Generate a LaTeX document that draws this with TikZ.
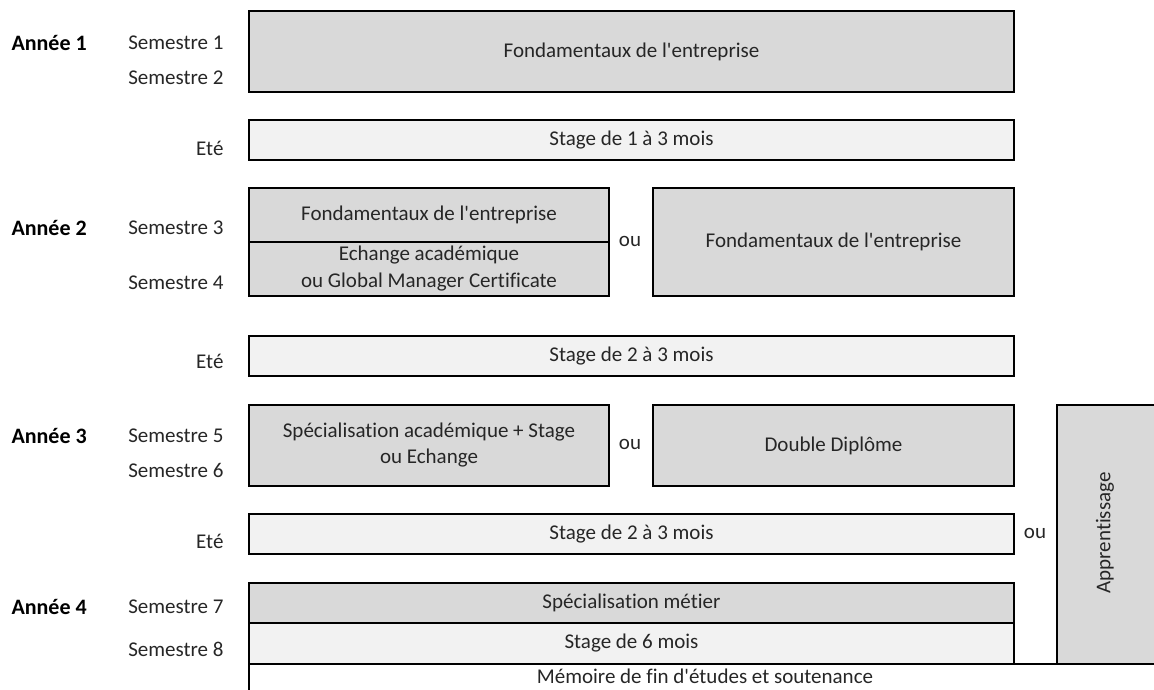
\documentclass[tikz,border=0pt]{standalone}
\usepackage{fontspec}
\setmainfont{Carlito}[Ligatures={TeXOff,NoCommon}]
\definecolor{darkfill}{HTML}{D9D9D9}
\definecolor{lightfill}{HTML}{F2F2F2}
\definecolor{txt}{HTML}{262626}
\begin{document}
\begin{tikzpicture}[x=1pt,y=-1pt,
  every node/.style={font=\fontsize{21}{26}\selectfont, text=txt},
  box/.style={draw=black, line width=2pt, anchor=north west, inner sep=0pt, align=center},
  dark/.style={box, fill=darkfill},
  light/.style={box, fill=lightfill},
  yearlab/.style={anchor=west, font=\fontsize{22}{26}\selectfont\bfseries, text=black},
  semlab/.style={anchor=east},
  orlab/.style={}
]
\useasboundingbox (0,0) rectangle (1154,689);
\clip (0,0) rectangle (1154,689);
% boxes
\node[dark, minimum width=765pt, minimum height=81pt] (a1) at (248,10) {};
\node at (a1.center) {Fondamentaux de l'entreprise};
\node[light, minimum width=765pt, minimum height=40pt] (e1) at (248,119) {};
\node at (e1.center) {Stage de 1 à 3 mois};

\node[dark, minimum width=360pt, minimum height=54pt] (a2t) at (248,187) {};
\node at (a2t.center) {Fondamentaux de l'entreprise};
\node[dark, minimum width=360pt, minimum height=54pt] (a2b) at (248,241) {};
\node[align=center, font=\fontsize{21}{27}\selectfont] at (a2b.center) {Echange académique\\ou Global Manager Certificate};
\node[dark, minimum width=361pt, minimum height=108pt] (a2r) at (652,187) {};
\node at (a2r.center) {Fondamentaux de l'entreprise};
\node[orlab] (ou1) at (630,241) {ou};

\node[light, minimum width=765pt, minimum height=40pt] (e2) at (248,335) {};
\node at (e2.center) {Stage de 2 à 3 mois};

\node[dark, minimum width=360pt, minimum height=81pt] (a3l) at (248,404) {};
\node[align=center, font=\fontsize{21}{26}\selectfont] at (a3l.center) {Spécialisation académique + Stage\\ou Echange};
\node[dark, minimum width=361pt, minimum height=81pt] (a3r) at (652,404) {};
\node at (a3r.center) {Double Diplôme};
\node[orlab] (ou2) at (630,444) {ou};

\node[light, minimum width=765pt, minimum height=40pt] (e3) at (248,513) {};
\node at (e3.center) {Stage de 2 à 3 mois};
\node[orlab] (ou3) at (1035,533) {ou};

\node[dark, minimum width=765pt, minimum height=40pt] (s7) at (248,582) {};
\node at (s7.center) {Spécialisation métier};
\node[light, minimum width=765pt, minimum height=41pt] (s8) at (248,622) {};
\node at (s8.center) {Stage de 6 mois};

\node[box, minimum width=912pt, minimum height=32pt] (mem) at (248,663) {};
\node at (705,676) {Mémoire de fin d'études et soutenance};

\node[dark, minimum width=104pt, minimum height=259pt] (app) at (1056,404) {};
\node[rotate=90] at (1105,533) {Apprentissage};

% left labels
\node[yearlab] (y1) at (8,43) {Année 1};
\node[yearlab] (y2) at (8,228) {Année 2};
\node[yearlab] (y3) at (8,436) {Année 3};
\node[yearlab] (y4) at (8,607) {Année 4};

\node[semlab] (t1) at (227,43) {Semestre 1};
\node[semlab] (t2) at (227,78) {Semestre 2};
\node[semlab] (t3) at (227,148) {Eté};
\node[semlab] (t4) at (227,228) {Semestre 3};
\node[semlab] (t5) at (227,283) {Semestre 4};
\node[semlab] (t6) at (227,361) {Eté};
\node[semlab] (t7) at (227,436) {Semestre 5};
\node[semlab] (t8) at (227,470) {Semestre 6};
\node[semlab] (t9) at (227,541) {Eté};
\node[semlab] (t10) at (227,607) {Semestre 7};
\node[semlab] (t11) at (227,649) {Semestre 8};
\end{tikzpicture}
\end{document}
